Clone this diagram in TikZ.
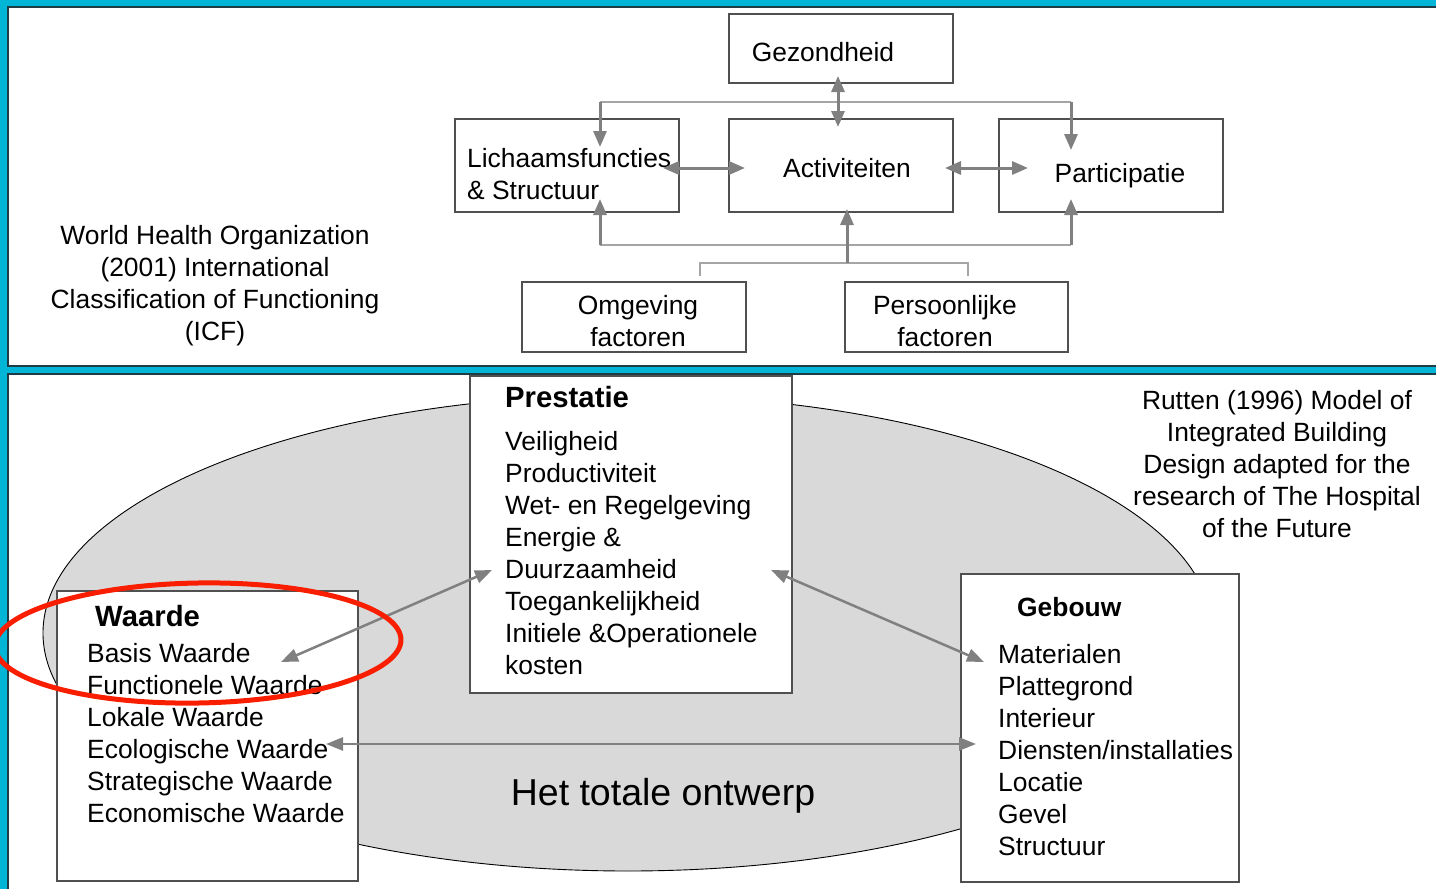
\documentclass[tikz,border=0pt]{standalone}
\usepackage{fontspec}
\setmainfont{Liberation Sans}
\usetikzlibrary{arrows.meta}
\definecolor{framecol}{RGB}{0,181,214}
\definecolor{panelline}{RGB}{30,60,70}
\definecolor{arrcol}{RGB}{128,128,128}
\definecolor{thincol}{RGB}{165,165,165}
\definecolor{ellcol}{RGB}{217,217,217}
\definecolor{boxcol}{RGB}{80,80,80}
\definecolor{ringcol}{RGB}{250,30,0}
\begin{document}
\begin{tikzpicture}[x=1pt,y=-1pt,
  box/.style={draw=boxcol, line width=1.3pt, fill=white, inner sep=0pt},
  txt/.style={inner sep=0pt, anchor=base, font=\fontsize{26.4}{32}\selectfont},
  ltxt/.style={txt, anchor=base west},
  btxt/.style={inner sep=0pt, anchor=base west, font=\fontsize{29.3}{32}\selectfont\bfseries},
  tipA/.tip={Triangle[length=16pt,width=13pt]},
  tipB/.tip={Triangle[length=17pt,width=13pt]},
  icfarr/.style={draw=arrcol, line width=3pt},
  thinline/.style={draw=thincol, line width=1.8pt},
  bigarr/.style={draw=arrcol, line width=2.5pt, tipB-tipB}
]
\useasboundingbox (0,0) rectangle (1436,889);
\clip (0,0) rectangle (1436,889);
% frame and panels
\fill[framecol] (-5,-5) rectangle (1441,894);
\draw[panelline, line width=1.2pt, fill=white] (8,7) rectangle (1460,366);
\draw[panelline, line width=1.2pt, fill=white] (8,374) rectangle (1460,910);

% ================= ICF panel =================
\node[box, minimum width=224pt, minimum height=69pt] (gez) at (841,48.5) {};
\node[box, minimum width=224pt, minimum height=93pt] (lich) at (567,165.5) {};
\node[box, minimum width=224pt, minimum height=93pt] (act) at (841,165.5) {};
\node[box, minimum width=224pt, minimum height=93pt] (part) at (1111,165.5) {};
\node[box, minimum width=224pt, minimum height=70pt] (omg) at (634,317) {};
\node[box, minimum width=223pt, minimum height=70pt] (pers) at (956.5,317) {};

\node[txt] (gezT) at (823,61) {Gezondheid};
\node[ltxt] (lichT1) at (467,167) {Lichaamsfuncties};
\node[ltxt] (lichT2) at (467,199) {\& Structuur};
\node[txt] (actT) at (847,177) {Activiteiten};
\node[txt] (partT) at (1120,182) {Participatie};
\node[txt] (omgT1) at (638,314) {Omgeving};
\node[txt] (omgT2) at (638,346) {factoren};
\node[txt] (persT1) at (945,314) {Persoonlijke};
\node[txt] (persT2) at (945,346) {factoren};

\foreach \t [count=\i from 0] in {World Health Organization,(2001) International,Classification of Functioning,(ICF)}
  \node[txt] (who\i) at (215,244+32*\i) {\t};

% connector points
\coordinate (topL) at (600,102);
\coordinate (topR) at (1071,102);
\coordinate (lichIn) at (600,147);
\coordinate (partIn) at (1071,150);
\coordinate (botL) at (600,245);
\coordinate (botR) at (1071,245);
\coordinate (lichUp) at (600,199);
\coordinate (partUp) at (1071,199);
\coordinate (brL) at (700,276);
\coordinate (brR) at (968,276);
\coordinate (brMid) at (847,263);
\coordinate (actUp) at (847,209);
\coordinate (gezIn) at (838,76);
\coordinate (actIn) at (838,127);
\coordinate (lichR) at (663,168);
\coordinate (actL) at (745,168);
\coordinate (actR) at (945,168);
\coordinate (partL) at (1028,168);

\draw[thinline] (topL) -- (topR);
\draw[thinline] (botL) -- (botR);
\draw[thinline] (brL) |- (brMid) -| (brR);
\draw[icfarr, -tipA] (topL) -- (lichIn);
\draw[icfarr, -tipA] (topR) -- (partIn);
\draw[icfarr, -tipA] (botL) -- (lichUp);
\draw[icfarr, -tipA] (botR) -- (partUp);
\draw[icfarr, -tipA] (brMid) -- (actUp);
\draw[icfarr, tipA-tipA] (gezIn) -- (actIn);
\draw[icfarr, tipA-tipA] (lichR) -- (actL);
\draw[icfarr, tipA-tipA] (actR) -- (partL);

% ================= Rutten panel =================
\draw[black, line width=0.9pt, fill=ellcol] (628,633) ellipse [x radius=585pt, y radius=238pt];

\node[box, minimum width=322pt, minimum height=317pt] (pre) at (631,534.5) {};
\node[box, minimum width=301pt, minimum height=290pt] (waa) at (207.5,736) {};
\node[box, minimum width=278pt, minimum height=308pt] (geb) at (1100,728) {};

\node[btxt] (preT) at (505,407) {Prestatie};
\foreach \t [count=\i from 0] in {Veiligheid,Productiviteit,Wet- en Regelgeving,Energie \&,Duurzaamheid,Toegankelijkheid,Initiele \&Operationele,kosten}
  \node[ltxt] (pre\i) at (505,450+32*\i) {\t};

\node[btxt] (waaT) at (95,626) {Waarde};
\foreach \t [count=\i from 0] in {Basis Waarde,Functionele Waarde,Lokale Waarde,Ecologische Waarde,Strategische Waarde,Economische Waarde}
  \node[ltxt] (waa\i) at (87,662+32*\i) {\t};

\node[ltxt, font=\fontsize{26.4}{32}\selectfont\bfseries] (gebT) at (1017,616) {Gebouw};
\foreach \t [count=\i from 0] in {Materialen,Plattegrond,Interieur,Diensten/installaties,Locatie,Gevel,Structuur}
  \node[ltxt] (geb\i) at (998,663+32*\i) {\t};

\node[txt, font=\fontsize{37.5}{45}\selectfont] (tot) at (663,805) {Het totale ontwerp};

\foreach \t [count=\i from 0] in {Rutten (1996) Model of,Integrated Building,Design adapted for the,research of The Hospital,of the Future}
  \node[txt] (rut\i) at (1277,409+32*\i) {\t};

\coordinate (preL) at (492,570);
\coordinate (waaIn) at (281,662);
\coordinate (preR) at (771,570);
\coordinate (gebIn) at (984,662);
\coordinate (waaR) at (326,744);
\coordinate (gebL) at (976,744);
\draw[bigarr] (preL) -- (waaIn);
\draw[bigarr] (preR) -- (gebIn);
\draw[bigarr] (waaR) -- (gebL);

\draw[ringcol, line width=5pt, rotate around={1:(198,643)}] (198,643) ellipse [x radius=203pt, y radius=60pt];
\end{tikzpicture}
\end{document}
